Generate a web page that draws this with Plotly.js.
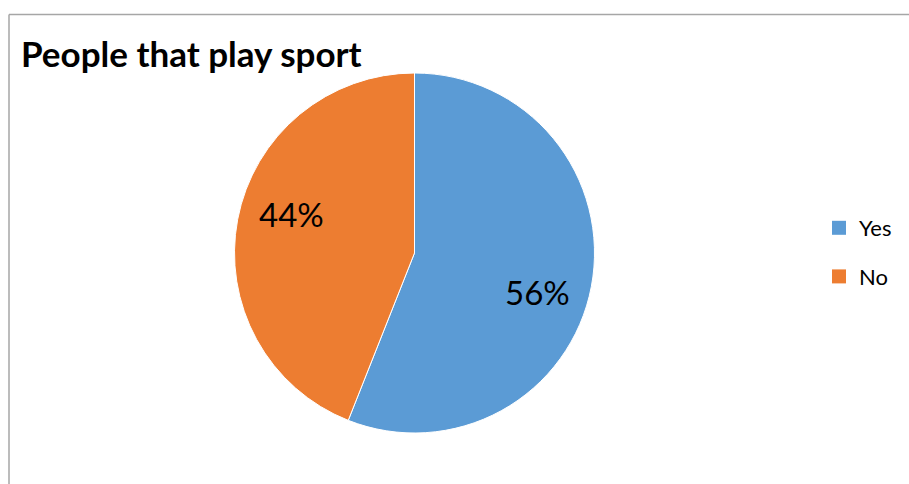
<!DOCTYPE html>
<html>
<head>
<meta charset="utf-8">
<script src="https://cdn.plot.ly/plotly-3.0.1.min.js"></script>
<style>html,body{margin:0;padding:0;background:#fff;}#chart{width:909px;height:484px;}</style>
</head>
<body>
<div id="chart"></div>
<script>
const categories = ["Yes", "No"];
const values = [56, 44];
const colors = ["#5B9BD5", "#ED7D31"];
const chartTitle = "People that play sport";

const W = 909, H = 484;
const cx = 414.5, cy = 253, R = 180;

const pie = {
  type: "pie",
  labels: categories,
  values: values,
  sort: false,
  direction: "clockwise",
  rotation: 0,
  marker: {colors: colors, line: {color: "#ffffff", width: 1}},
  textinfo: "none",
  showlegend: false,
  hoverinfo: "label+percent",
  domain: {x: [(cx - R) / W, (cx + R) / W], y: [(H - cy - R) / H, (H - cy + R) / H]}
};

const legendTraces = categories.map((c, i) => ({
  type: "scatter", mode: "markers", x: [null], y: [null], name: c,
  legendgroup: c,
  marker: {symbol: "square", size: 14, color: colors[i]},
  showlegend: true, hoverinfo: "skip"
}));

// percentage labels placed inside each slice, derived from the values
const total = values.reduce((a, b) => a + b, 0);
const annotations = [];
let cum = 0;
values.forEach((v, i) => {
  const frac = v / total;
  const midDeg = (cum + frac / 2) * 360 + 7;
  cum += frac;
  const a = midDeg * Math.PI / 180;
  const rr = 0.715 * R;
  const px = cx + rr * Math.sin(a);
  const py = cy - rr * Math.cos(a);
  annotations.push({
    xref: "paper", yref: "paper", x: px / W, y: 1 - py / H,
    xanchor: "center", yanchor: "middle", showarrow: false,
    text: Math.round(frac * 100) + "%",
    font: {family: "Lato, sans-serif", size: 33, color: "#000000"}
  });
});

const layout = {
  width: W, height: H,
  margin: {l: 0, r: 0, t: 0, b: 0},
  paper_bgcolor: "#ffffff", plot_bgcolor: "rgba(0,0,0,0)",
  font: {family: "Lato, sans-serif", color: "#000000"},
  title: {text: "<b>" + chartTitle + "</b>", font: {family: "Lato, sans-serif", size: 35, color: "#000000"},
          x: 21 / W, xanchor: "left", xref: "container", y: 1 - 55 / H, yanchor: "middle", yref: "container"},
  xaxis: {visible: false, range: [0, 1], fixedrange: true},
  yaxis: {visible: false, range: [0, 1], fixedrange: true},
  showlegend: true,
  legend: {x: 819 / W, xanchor: "left", y: 1 - 207 / H, yanchor: "top", traceorder: "grouped",
           tracegroupgap: 17, font: {family: "Lato, sans-serif", size: 22, color: "#000000"},
           itemwidth: 30, bgcolor: "rgba(0,0,0,0)"},
  annotations: annotations,
  shapes: [
    {type: "line", xref: "paper", yref: "paper", x0: 9 / W, x1: 1, y0: 1 - 14.5 / H, y1: 1 - 14.5 / H, line: {color: "#A6A6A6", width: 1.5}},
    {type: "line", xref: "paper", yref: "paper", x0: 9 / W, x1: 9 / W, y0: 0, y1: 1 - 14.5 / H, line: {color: "#A6A6A6", width: 1.5}}
  ]
};

Plotly.newPlot("chart", [pie].concat(legendTraces), layout, {displayModeBar: false, staticPlot: true});
</script>
</body>
</html>
